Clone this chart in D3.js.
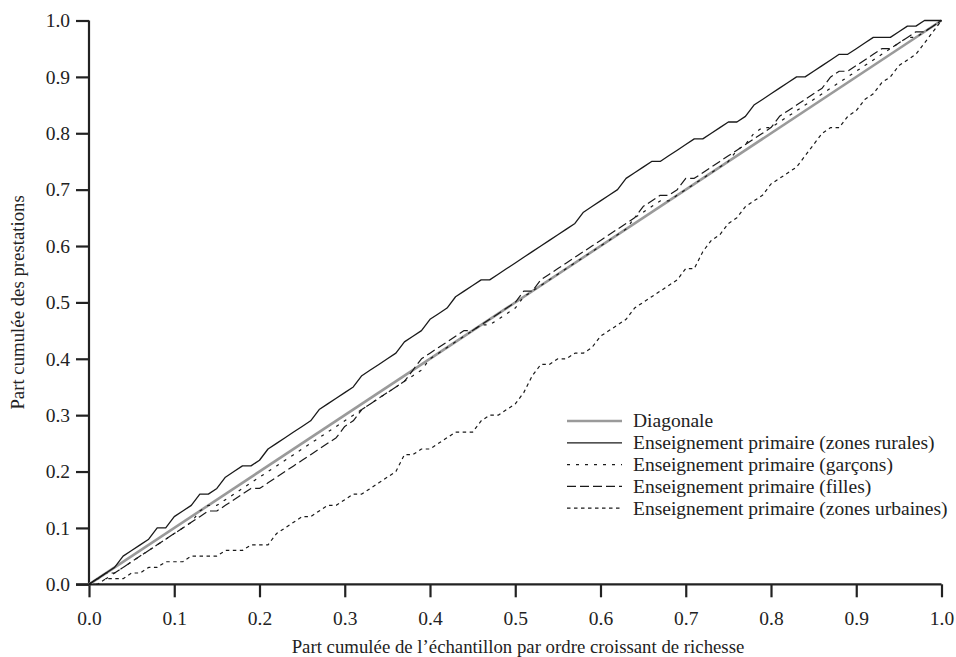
<!DOCTYPE html>
<html>
<head>
<meta charset="utf-8">
<script src="https://cdn.jsdelivr.net/npm/d3@7"></script>
<style>
  html, body { margin: 0; padding: 0; background: #fff; }
  svg { display: block; }
  text { font-family: "Liberation Serif", "Times New Roman", serif; fill: #222; }
</style>
</head>
<body>
<svg id="chart" width="956" height="657"></svg>
<script>
// Cumulative share of the sample (ranked by wealth), one point per percentile
const xShares = d3.range(0, 101).map(i => i / 100);

const diagonale = [0, 1];

const rurales = [
  0.00, 0.01, 0.02, 0.03, 0.05, 0.06, 0.07, 0.08, 0.10, 0.10,
  0.12, 0.13, 0.14, 0.16, 0.16, 0.17, 0.19, 0.20, 0.21, 0.21,
  0.22, 0.24, 0.25, 0.26, 0.27, 0.28, 0.29, 0.31, 0.32, 0.33,
  0.34, 0.35, 0.37, 0.38, 0.39, 0.40, 0.41, 0.43, 0.44, 0.45,
  0.47, 0.48, 0.49, 0.51, 0.52, 0.53, 0.54, 0.54, 0.55, 0.56,
  0.57, 0.58, 0.59, 0.60, 0.61, 0.62, 0.63, 0.64, 0.66, 0.67,
  0.68, 0.69, 0.70, 0.72, 0.73, 0.74, 0.75, 0.75, 0.76, 0.77,
  0.78, 0.79, 0.79, 0.80, 0.81, 0.82, 0.82, 0.83, 0.85, 0.86,
  0.87, 0.88, 0.89, 0.90, 0.90, 0.91, 0.92, 0.93, 0.94, 0.94,
  0.95, 0.96, 0.97, 0.97, 0.97, 0.98, 0.99, 0.99, 1.00, 1.00,
  1.00
];

const garcons = [
  0.00, 0.01, 0.01, 0.02, 0.03, 0.04, 0.05, 0.06, 0.07, 0.08,
  0.09, 0.10, 0.11, 0.13, 0.14, 0.14, 0.15, 0.16, 0.17, 0.18,
  0.19, 0.20, 0.21, 0.22, 0.23, 0.24, 0.25, 0.26, 0.27, 0.28,
  0.29, 0.30, 0.31, 0.32, 0.33, 0.34, 0.35, 0.36, 0.37, 0.38,
  0.40, 0.41, 0.42, 0.43, 0.44, 0.45, 0.46, 0.46, 0.47, 0.48,
  0.49, 0.51, 0.52, 0.53, 0.54, 0.55, 0.56, 0.57, 0.58, 0.59,
  0.60, 0.61, 0.62, 0.63, 0.65, 0.66, 0.67, 0.68, 0.68, 0.69,
  0.70, 0.71, 0.72, 0.73, 0.74, 0.75, 0.77, 0.78, 0.80, 0.81,
  0.81, 0.82, 0.83, 0.84, 0.85, 0.86, 0.87, 0.88, 0.89, 0.90,
  0.91, 0.92, 0.93, 0.94, 0.95, 0.96, 0.97, 0.97, 0.98, 0.99,
  1.00
];

const filles = [
  0.00, 0.01, 0.02, 0.02, 0.03, 0.04, 0.05, 0.06, 0.07, 0.08,
  0.09, 0.10, 0.11, 0.12, 0.13, 0.13, 0.14, 0.15, 0.16, 0.17,
  0.17, 0.18, 0.19, 0.20, 0.21, 0.22, 0.23, 0.24, 0.25, 0.26,
  0.28, 0.29, 0.31, 0.32, 0.33, 0.34, 0.35, 0.36, 0.38, 0.40,
  0.41, 0.42, 0.43, 0.44, 0.45, 0.45, 0.46, 0.47, 0.48, 0.49,
  0.50, 0.52, 0.52, 0.54, 0.55, 0.56, 0.57, 0.58, 0.59, 0.60,
  0.61, 0.62, 0.63, 0.64, 0.65, 0.67, 0.68, 0.69, 0.69, 0.70,
  0.72, 0.72, 0.73, 0.74, 0.75, 0.76, 0.77, 0.78, 0.79, 0.80,
  0.81, 0.83, 0.84, 0.85, 0.86, 0.87, 0.88, 0.90, 0.91, 0.91,
  0.92, 0.93, 0.94, 0.95, 0.95, 0.96, 0.97, 0.98, 0.98, 0.99,
  1.00
];

const urbaines = [
  0.00, 0.00, 0.01, 0.01, 0.01, 0.02, 0.02, 0.03, 0.03, 0.04,
  0.04, 0.04, 0.05, 0.05, 0.05, 0.05, 0.06, 0.06, 0.06, 0.07,
  0.07, 0.07, 0.09, 0.10, 0.11, 0.12, 0.12, 0.13, 0.14, 0.14,
  0.15, 0.16, 0.16, 0.17, 0.18, 0.19, 0.20, 0.23, 0.23, 0.24,
  0.24, 0.25, 0.26, 0.27, 0.27, 0.27, 0.29, 0.30, 0.30, 0.31,
  0.32, 0.34, 0.37, 0.39, 0.39, 0.40, 0.40, 0.41, 0.41, 0.42,
  0.44, 0.45, 0.46, 0.47, 0.49, 0.50, 0.51, 0.52, 0.53, 0.54,
  0.56, 0.56, 0.59, 0.61, 0.62, 0.64, 0.65, 0.67, 0.68, 0.69,
  0.71, 0.72, 0.73, 0.74, 0.76, 0.78, 0.80, 0.81, 0.81, 0.83,
  0.84, 0.86, 0.87, 0.89, 0.90, 0.92, 0.93, 0.94, 0.96, 0.98,
  1.00
];

const tickValues = [0, 0.1, 0.2, 0.3, 0.4, 0.5, 0.6, 0.7, 0.8, 0.9, 1.0];

const seriesLabels = [
  "Diagonale",
  "Enseignement primaire (zones rurales)",
  "Enseignement primaire (garçons)",
  "Enseignement primaire (filles)",
  "Enseignement primaire (zones urbaines)"
];

const xTitle = "Part cumulée de l’échantillon par ordre croissant de richesse";
const yTitle = "Part cumulée des prestations";

// ---- layout ----
const svg = d3.select("#chart");
const plotLeft = 89, plotRight = 941.5, plotTop = 20.5, plotBottom = 584.3;

const x = d3.scaleLinear().domain([0, 1]).range([plotLeft, plotRight]);
const y = d3.scaleLinear().domain([0, 1]).range([plotBottom, plotTop]);

const toPoints = vals => vals.map((v, i) => [xShares[i], v]);

const series = [
  { name: seriesLabels[0], pts: [[0, diagonale[0]], [1, diagonale[1]]], stroke: "#9a9a9a", width: 2.6, dash: null },
  { name: seriesLabels[1], pts: toPoints(rurales),  stroke: "#1a1a1a", width: 1.3, dash: null },
  { name: seriesLabels[2], pts: toPoints(garcons),  stroke: "#1a1a1a", width: 1.2, dash: "3,6" },
  { name: seriesLabels[3], pts: toPoints(filles),   stroke: "#1a1a1a", width: 1.2, dash: "9,4" },
  { name: seriesLabels[4], pts: toPoints(urbaines), stroke: "#1a1a1a", width: 1.2, dash: "3.5,3.5" }
];

const line = d3.line().x(d => x(d[0])).y(d => y(d[1]));

// ---- axes ----
const fmt = d3.format(".1f");

const yAxis = svg.append("g")
  .attr("transform", `translate(${plotLeft},0)`)
  .call(d3.axisLeft(y).tickValues(tickValues).tickFormat(fmt).tickSize(13).tickPadding(6));

const xAxis = svg.append("g")
  .attr("transform", `translate(0,${plotBottom})`)
  .call(d3.axisBottom(x).tickValues(tickValues).tickFormat(fmt).tickSize(13).tickPadding(14));

[yAxis, xAxis].forEach(g => {
  g.select(".domain").remove();
  g.selectAll(".tick line").attr("stroke", "#222").attr("stroke-width", 2.2);
  g.selectAll(".tick text")
    .style("font-family", "'Liberation Serif', 'Times New Roman', serif")
    .style("font-size", "19.5px")
    .attr("fill", "#222");
});

// axis lines
svg.append("line")
  .attr("x1", plotLeft).attr("x2", plotLeft)
  .attr("y1", y(1)).attr("y2", y(0))
  .attr("stroke", "#222").attr("stroke-width", 2.2);
svg.append("line")
  .attr("x1", plotLeft - 13).attr("x2", plotRight)
  .attr("y1", y(0)).attr("y2", y(0))
  .attr("stroke", "#222").attr("stroke-width", 2.2);

// ---- curves ----
svg.append("g").selectAll("path")
  .data(series)
  .join("path")
  .attr("d", d => line(d.pts))
  .attr("fill", "none")
  .attr("stroke", d => d.stroke)
  .attr("stroke-width", d => d.width)
  .attr("stroke-dasharray", d => d.dash)
  .attr("stroke-linejoin", "round");

// ---- axis titles ----
svg.append("text")
  .attr("x", 518)
  .attr("y", 653)
  .attr("text-anchor", "middle")
  .style("font-size", "18.8px")
  .text(xTitle);

svg.append("text")
  .attr("transform", `translate(24,${(plotTop + plotBottom) / 2}) rotate(-90)`)
  .attr("text-anchor", "middle")
  .style("font-size", "18.8px")
  .text(yTitle);

// ---- legend ----
const legend = svg.append("g").attr("transform", "translate(567,421)");
const rowH = 21.8;
const rows = legend.selectAll("g")
  .data(series)
  .join("g")
  .attr("transform", (d, i) => `translate(0,${i * rowH})`);

rows.append("line")
  .attr("x1", 0).attr("x2", 55)
  .attr("y1", 0).attr("y2", 0)
  .attr("stroke", d => d.stroke)
  .attr("stroke-width", d => d.width)
  .attr("stroke-dasharray", d => d.dash);

rows.append("text")
  .attr("x", 66)
  .attr("y", 0)
  .attr("dy", "0.33em")
  .style("font-size", "19.5px")
  .text(d => d.name);
</script>
</body>
</html>
